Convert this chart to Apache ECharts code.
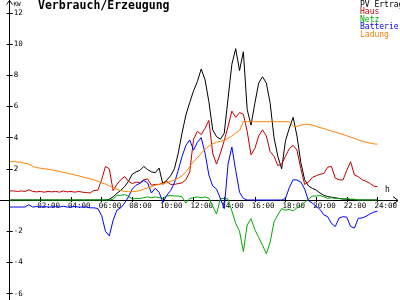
<!DOCTYPE html>
<html><head><meta charset="utf-8">
<script src="https://cdn.jsdelivr.net/npm/echarts@6/dist/echarts.min.js"></script>
<style>html,body{margin:0;padding:0;background:#fff}#c{width:400px;height:300px}</style>
</head><body><div id="c"></div>
<script>
// time grid (hours)
const hours = [
 0,0.25,0.5,0.75, 1,1.25,1.5,1.75, 2,2.25,2.5,2.75, 3,3.25,3.5,3.75,
 4,4.25,4.5,4.75, 5,5.25,5.5,5.75, 6,6.25,6.5,6.75, 7,7.25,7.5,7.75,
 8,8.25,8.5,8.75, 9,9.25,9.5,9.75, 10,10.25,10.5,10.75, 11,11.25,11.5,11.75,
 12,12.25,12.5,12.75, 13,13.25,13.5,13.75, 14,14.25,14.5,14.75, 15,15.25,15.5,15.75,
 16,16.25,16.5,16.75, 17,17.25,17.5,17.75, 18,18.25,18.5,18.75, 19,19.25,19.5,19.75,
 20,20.25,20.5,20.75, 21,21.25,21.5,21.75, 22,22.25,22.5,22.75, 23,23.25,23.5,23.75, 24
];
const seriesNames = ['PV Ertrag','Haus','Netz','Batterie','Ladung'];
const seriesColors = ['#000000','#c00000','#00a800','#0000ff','#ff8000'];
const pvValues = [
 0,0,0,0, 0,0,0,0, 0,0,0,0, 0,0,0,0, 0,0,0,0, 0,0,0,0,
 0,0,0.05,0.2, 0.43,0.62,0.85,1.2, 1.65,1.8,1.9,2.15, 1.95,1.8,1.75,2.05,
 1.0,1.28,1.55,2.0, 3.0,4.3,5.45,6.25, 7.0,7.6,8.4,7.7, 6.3,4.5,4.06,3.9,
 4.27,6.5,8.7,9.7, 8.3,9.5,5.8,4.8, 6.2,7.5,7.9,7.5, 6.2,4.0,2.8,2.0,
 3.8,4.6,5.3,4.1, 2.4,1.3,0.9,0.75, 0.64,0.45,0.3,0.22, 0.18,0.14,0.1,0.07,
 0.05,0.03,0.02,0, 0,0,0,0, 0
];
const hausValues = [
 0.58,0.58,0.55,0.58, 0.55,0.65,0.55,0.52, 0.55,0.5,0.55,0.52, 0.55,0.5,0.58,0.52,
 0.55,0.5,0.55,0.5, 0.48,0.45,0.62,0.62, 1.3,2.15,2.0,0.6, 1.0,1.3,1.5,1.2,
 1.05,1.15,1.1,1.3, 1.35,0.95,1.0,1.0, 1.1,1.2,1.0,1.0, 1.05,1.1,1.3,1.8,
 3.9,4.4,4.2,4.6, 5.1,3.0,2.3,3.0, 3.8,4.7,5.7,5.3, 5.6,5.5,4.4,2.9,
 3.3,4.1,4.5,4.1, 3.1,2.8,2.2,2.3, 2.8,3.3,3.5,3.2, 2.0,1.0,1.15,1.45,
 1.55,1.65,1.7,2.1, 2.15,1.4,1.3,1.28, 1.9,2.45,1.6,1.5, 1.3,1.2,1.07,0.9, 0.85
];
const netzValues = [
 0,0,0,0, 0,0,0,0, 0,0,0,0, 0,0,0,0, 0,0,0,0, 0,0,0,0,
 0,0,0,0.05, 0.3,0.3,0.35,0.25, 0.05,0.1,0.1,0.15, 0.2,0.15,0.2,0.15,
 0.1,0.25,0.3,0.25, 0.25,0.2,-0.2,0.1, 0.15,0.2,0.15,0.2, 0.1,-0.4,-0.9,0.1,
 0.1,0.05,-0.7,-1.5, -2.0,-3.3,-1.6,-1.2, -1.9,-2.4,-2.9,-3.45, -2.7,-1.4,-0.95,-0.55,
 -0.65,-0.6,-0.7,-0.5, -0.4,-0.15,0.05,0.25, 0.25,0.3,0.2,0.1, 0.15,0.1,0.1,0.05,
 0.1,0.05,0.05,0, 0,0,0,0, 0
];
const batterieValues = [
 -0.45,-0.45,-0.45,-0.45, -0.45,-0.3,-0.45,-0.42, -0.45,-0.42,-0.45,-0.45, -0.42,-0.45,-0.4,-0.45,
 -0.45,-0.42,-0.45,-0.45, -0.45,-0.5,-0.5,-0.55, -1.0,-2.0,-2.3,-1.3, -0.65,-0.5,-0.2,0.2,
 0.7,0.95,1.07,1.25, 1.1,0.45,0.75,0.5, -0.15,0.3,0.6,1.1, 1.9,2.8,3.5,3.85,
 3.2,3.7,4.0,3.0, 1.6,0.9,0.7,0.1, -0.55,2.3,3.4,1.9, 0.5,0.1,0,0,
 0,0,0,0, 0,0,0,0, 0.1,0.8,1.3,1.28, 1.15,0.7,-0.05,-0.2,
 -0.4,-0.6,-0.95,-1.07, -1.5,-1.7,-1.15,-1.07, -1.1,-1.7,-1.8,-1.17, -1.15,-1.05,-0.9,-0.78, -0.72
];
const ladungValues = [
 2.46,2.46,2.44,2.42, 2.35,2.3,2.15,2.08, 2.04,2.0,1.97,1.93, 1.88,1.83,1.77,1.72,
 1.66,1.6,1.55,1.48, 1.42,1.36,1.3,1.2, 1.1,1.02,0.9,0.79, 0.68,0.6,0.55,0.53,
 0.53,0.56,0.6,0.7, 0.78,0.85,0.95,1.0, 1.05,1.1,1.2,1.28, 1.4,1.55,1.8,2.15,
 2.46,2.7,3.0,3.25, 3.45,3.6,3.7,3.76, 3.82,3.95,4.1,4.3, 4.45,5.02,5.02,5.02,
 5.02,5.02,5.02,5.02, 5.02,5.02,5.02,5.02, 5.02,5.02,4.72,4.72, 4.8,4.85,4.85,4.8,
 4.72,4.64,4.58,4.5, 4.42,4.35,4.27,4.2, 4.12,4.03,3.95,3.85, 3.76,3.7,3.65,3.6, 3.58
];
const yTicks = {min:-6, max:12, step:2};
const xTicks = {min:0, max:24, step:2};

const mono = '"DejaVu Sans Mono", monospace';
const gridBox = {left:9.7, right:10.3, top:12.8, bottom:6.4};
const chart = echarts.init(document.getElementById('c'), null, {renderer:'canvas'});
const W = chart.getWidth(), H = chart.getHeight();
const gridH = H - gridBox.top - gridBox.bottom;
// move the x axis up from the grid bottom to the y=0 level
const xOffset = -gridH * (0 - yTicks.min) / (yTicks.max - yTicks.min);
const allValues = [pvValues, hausValues, netzValues, batterieValues, ladungValues];
function pairs(v){ return hours.map((h,i)=>[h, v[i]]); }
function pad(n){ return (n<10?'0':'')+n; }

chart.setOption({
  animation:false,
  backgroundColor:'#ffffff',
  title:{text:'Verbrauch/Erzeugung', left:38, top:0.5, padding:0,
    textStyle:{fontFamily:mono, fontWeight:'bold', fontSize:11.5, color:'#000'}},
  grid:Object.assign({containLabel:false}, gridBox),
  xAxis:[
    {type:'value', min:xTicks.min, max:xTicks.max, interval:xTicks.step, position:'bottom', offset:xOffset,
     axisLine:{show:false, onZero:false},
     axisTick:{show:true, length:2, lineStyle:{color:'#000'}},
     axisLabel:{margin:2, fontFamily:mono, fontSize:7.5, color:'#000', align:'left',
       padding:[0,0,0,-3], showMinLabel:true, showMaxLabel:true,
       formatter:v=> v===0 ? '' : pad(v)+':00'},
     splitLine:{show:false}},
    {type:'value', min:xTicks.min, max:xTicks.max, interval:xTicks.step, position:'bottom', offset:xOffset,
     axisLine:{show:false, onZero:false},
     axisTick:{show:true, inside:true, length:3, lineStyle:{color:'#000'}},
     axisLabel:{show:false}, splitLine:{show:false}}
  ],
  yAxis:[
    {type:'value', min:yTicks.min, max:yTicks.max, interval:yTicks.step, position:'left',
     axisLine:{show:false, onZero:false},
     axisTick:{show:true, length:3, lineStyle:{color:'#000'}},
     axisLabel:{inside:true, margin:4, fontFamily:mono, fontSize:7.5, color:'#000',
       formatter:v=> v===0 ? '' : String(v)},
     splitLine:{show:false}},
    {type:'value', min:yTicks.min, max:yTicks.max, interval:yTicks.step, position:'left',
     axisLine:{show:false, onZero:false},
     axisTick:{show:true, inside:true, length:3, lineStyle:{color:'#000'}},
     axisLabel:{show:false}, splitLine:{show:false}}
  ],
  series: seriesNames.map((n,i)=>({
    name:n, type:'line', xAxisIndex:0, yAxisIndex:0, data:pairs(allValues[i]),
    showSymbol:false, symbol:'none', silent:true, z:2+i,
    lineStyle:{color:seriesColors[i], width:1}, itemStyle:{color:seriesColors[i]}
  }))
});

// full-length axis lines with arrows, unit texts and legend texts
const o = chart.convertToPixel({gridIndex:0}, [0,0]);
function sp(p){ const d=Math.round(p*2); return (d+1)%2===0 ? d/2 : (d+1)/2; }
const ox = sp(o[0]), oy = sp(o[1]);
const ls = {stroke:'#000', lineWidth:1, fill:null};
const graphics = [
  {type:'line', z:1, shape:{x1:ox, y1:0, x2:ox, y2:H}, style:ls, silent:true},
  {type:'polyline', z:1, shape:{points:[[ox-3,4.5],[ox,0.5],[ox+3,4.5]]}, style:ls, silent:true},
  {type:'line', z:1, shape:{x1:0, y1:oy, x2:W-2, y2:oy}, style:ls, silent:true},
  {type:'polyline', z:1, shape:{points:[[W-7,oy-4],[W-2,oy],[W-7,oy+4]]}, style:ls, silent:true},
  {type:'text', x:ox+4, y:1, silent:true, style:{text:'KW', fill:'#000', font:'6px '+mono, verticalAlign:'top'}},
  {type:'text', x:385, y:186, silent:true, style:{text:'h', fill:'#000', font:'8px '+mono, verticalAlign:'top'}}
];
seriesNames.forEach((n,i)=>{
  graphics.push({type:'text', x:360, y:0.5+i*7.5, silent:true,
    style:{text:n, fill:seriesColors[i], font:'8px '+mono, verticalAlign:'top'}});
});
chart.setOption({graphic:graphics});
</script>
</body></html>
